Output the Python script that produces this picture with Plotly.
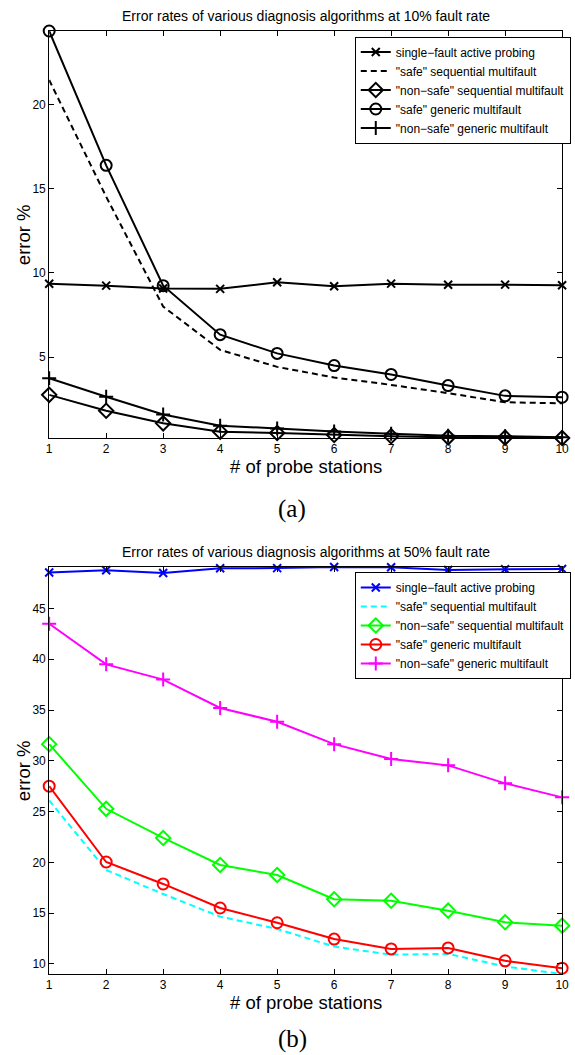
import plotly.graph_objects as go

stations = [1, 2, 3, 4, 5, 6, 7, 8, 9, 10]

names = [
    "single\u2212fault active probing",
    "\"safe\" sequential multifault",
    "\"non\u2212safe\" sequential multifault",
    "\"safe\" generic multifault",
    "\"non\u2212safe\" generic multifault",
]

# (a) 10% fault rate
a_single = [9.35, 9.24, 9.07, 9.05, 9.44, 9.20, 9.36, 9.29, 9.30, 9.26]
a_safe_seq = [21.44, 14.52, 8.00, 5.43, 4.42, 3.79, 3.35, 2.86, 2.32, 2.26]
a_nonsafe_seq = [2.76, 1.82, 1.07, 0.57, 0.50, 0.38, 0.30, 0.24, 0.22, 0.20]
a_safe_gen = [24.35, 16.38, 9.24, 6.33, 5.22, 4.50, 3.97, 3.31, 2.70, 2.62]
a_nonsafe_gen = [3.75, 2.65, 1.60, 0.93, 0.77, 0.58, 0.45, 0.33, 0.30, 0.24]

# (b) 50% fault rate
b_single = [48.54, 48.77, 48.50, 48.96, 48.98, 49.09, 49.06, 48.80, 48.86, 48.90]
b_safe_seq = [26.10, 19.24, 16.88, 14.65, 13.44, 11.70, 10.90, 10.98, 9.74, 9.00]
b_nonsafe_seq = [31.64, 25.27, 22.40, 19.74, 18.75, 16.36, 16.22, 15.24, 14.10, 13.76]
b_safe_gen = [27.50, 20.03, 17.87, 15.50, 14.05, 12.44, 11.47, 11.57, 10.30, 9.57]
b_nonsafe_gen = [43.50, 39.50, 38.00, 35.20, 33.85, 31.64, 30.17, 29.55, 27.78, 26.40]

titles = [
    "Error rates of various diagnosis algorithms at 10% fault rate",
    "Error rates of various diagnosis algorithms at 50% fault rate",
]
xlabel = "# of probe stations"
ylabel = "error %"
panel_labels = ["(a)", "(b)"]

a_ticks = [5, 10, 15, 20]
b_ticks = [10, 15, 20, 25, 30, 35, 40, 45]

W, H = 575, 1055
L, R = 47, 569
A_T, A_B = 31, 438
B_T, B_B = 567, 974

def py(v):
    return 1 - v / H

fig = go.Figure()

styles = [
    dict(symbol="x-thin-open", size=8, dash="solid"),
    dict(symbol=None, size=0, dash="6px,4px"),
    dict(symbol="diamond-open", size=11, dash="solid"),
    dict(symbol="circle-open", size=11, dash="solid"),
    dict(symbol="cross-thin-open", size=10, dash="solid"),
]

a_series = [a_single, a_safe_seq, a_nonsafe_seq, a_safe_gen, a_nonsafe_gen]
b_series = [b_single, b_safe_seq, b_nonsafe_seq, b_safe_gen, b_nonsafe_gen]
b_colors = ["#0000FF", "#00FFFF", "#00FF00", "#FF0000", "#FF00FF"]

for i, ys in enumerate(a_series):
    st = styles[i]
    mode = "lines" if st["symbol"] is None else "lines+markers"
    fig.add_trace(go.Scatter(
        x=stations, y=ys, name=names[i], mode=mode,
        line=dict(color="black", width=2, dash=st["dash"]),
        marker=dict(symbol=st["symbol"] or "circle", size=st["size"], color="black",
                    line=dict(width=2, color="black")),
        cliponaxis=False, xaxis="x", yaxis="y", legend="legend",
    ))

for i, ys in enumerate(b_series):
    st = styles[i]
    mode = "lines" if st["symbol"] is None else "lines+markers"
    fig.add_trace(go.Scatter(
        x=stations, y=ys, name=names[i], mode=mode,
        line=dict(color=b_colors[i], width=2, dash=st["dash"]),
        marker=dict(symbol=st["symbol"] or "circle", size=st["size"], color=b_colors[i],
                    line=dict(width=2, color=b_colors[i])),
        cliponaxis=False, xaxis="x2", yaxis="y2", legend="legend2",
    ))

axis_common = dict(
    showline=True, linecolor="black", linewidth=1, mirror="ticks",
    ticks="inside", ticklen=5, tickcolor="black", tickwidth=1,
    showgrid=False, zeroline=False, ticklabeloverflow="allow",
    tickfont=dict(family="Liberation Sans", size=12, color="black"),
)

legend_common = dict(
    xanchor="left", yanchor="top",
    bgcolor="white", bordercolor="black", borderwidth=1,
    font=dict(family="Liberation Sans", size=12, color="black"),
    tracegroupgap=0, itemwidth=30,
)

fig.update_layout(
    width=W, height=H,
    margin=dict(l=0, r=0, t=0, b=0),
    paper_bgcolor="white", plot_bgcolor="white",
    xaxis=dict(domain=[L / W, R / W], range=[1, 10], tickvals=stations, anchor="y", **axis_common),
    yaxis=dict(domain=[py(A_B), py(A_T)], range=[0.2, 24.35], tickvals=a_ticks, anchor="x", **axis_common),
    xaxis2=dict(domain=[L / W, R / W], range=[1, 10], tickvals=stations, anchor="y2", **axis_common),
    yaxis2=dict(domain=[py(B_B), py(B_T)], range=[9.0, 49.09], tickvals=b_ticks, anchor="x2", **axis_common),
    legend=dict(x=358 / W, y=py(36.5), **legend_common),
    legend2=dict(x=358 / W, y=py(572), **legend_common),
    showlegend=True,
)

ann = []
for t, yc in zip(titles, [16, 552]):
    ann.append(dict(text=t, x=(L + R) / 2 / W, y=py(yc), xref="paper", yref="paper",
                    showarrow=False, xanchor="center", yanchor="middle",
                    font=dict(family="Liberation Sans", size=14, color="black")))
for yc in [466, 1002]:
    ann.append(dict(text=xlabel, x=(L + R) / 2 / W, y=py(yc), xref="paper", yref="paper",
                    showarrow=False, xanchor="center", yanchor="middle",
                    font=dict(family="Liberation Sans", size=18.5, color="black")))
for yc in [(A_T + A_B) / 2, (B_T + B_B) / 2]:
    ann.append(dict(text=ylabel, x=21 / W, y=py(yc), xref="paper", yref="paper",
                    showarrow=False, xanchor="center", yanchor="middle", textangle=-90,
                    font=dict(family="Liberation Sans", size=18.5, color="black")))
for t, yc in zip(panel_labels, [509, 1039]):
    ann.append(dict(text=t, x=294.5 / W, y=py(yc), xref="paper", yref="paper",
                    showarrow=False, xanchor="center", yanchor="middle",
                    font=dict(family="Liberation Serif", size=25, color="black")))
fig.update_layout(annotations=ann)

fig.write_html("out.html")
